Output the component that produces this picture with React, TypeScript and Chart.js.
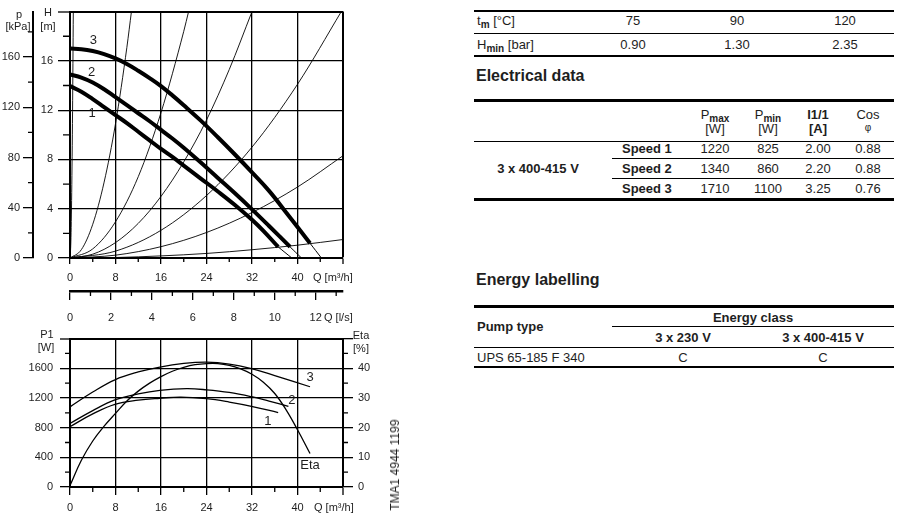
import React, { useEffect, useRef } from 'react';
import { Chart, registerables } from 'chart.js';

Chart.register(...registerables);

const FONT = '"Liberation Sans", Arial, Helvetica, sans-serif';
const INK = '#1e1e1e';

// ---------------- upper chart: H [m] / p [kPa] versus Q ----------------
const hMinor = [2, 6, 10, 14, 18];
const pMinor = [20, 60, 100, 140, 180];
const qMinor = [4, 12, 20, 28, 36, 44];
const lsMinor = [1, 3, 5, 7, 9, 11, 13];

const speed1Q = [0, 2, 4, 6, 8, 10, 12, 14, 16, 18, 20, 23, 26, 29, 32, 34, 36.6];
const speed1H = [13.95, 13.5, 12.9, 12.25, 11.6, 10.95, 10.25, 9.55, 8.85, 8.2, 7.5, 6.45, 5.4, 4.3, 3.1, 2.2, 0.9];
const speed1TailQ = [36.6, 39.0];
const speed1TailH = [0.9, 0];
const speed2Q = [0, 2, 4, 6, 8, 10, 12, 14, 16, 18, 20, 23, 26, 29, 32, 35, 38.7];
const speed2H = [14.9, 14.65, 14.25, 13.7, 13.05, 12.4, 11.75, 11.1, 10.4, 9.7, 8.95, 7.75, 6.5, 5.25, 3.95, 2.6, 0.9];
const speed2TailQ = [38.7, 40.7];
const speed2TailH = [0.9, 0];
const speed3Q = [0, 2, 4, 6, 8, 10, 12, 14, 16, 18, 20, 23, 26, 29, 32, 35, 38, 42.2];
const speed3H = [17.0, 16.95, 16.8, 16.55, 16.2, 15.75, 15.2, 14.6, 13.95, 13.2, 12.4, 11.15, 9.8, 8.4, 6.95, 5.45, 3.7, 1.2];
const speed3TailQ = [42.2, 44.2];
const speed3TailH = [1.2, 0];

const sysAQ = [0, 0.15, 0.3, 0.45, 0.58];
const sysAH = [0, 1.3, 5.3, 11.9, 20];
const sysBQ = [0, 2, 4, 6, 8, 10, 10.8];
const sysBH = [0, 0.68, 2.74, 6.16, 10.9, 17.1, 20];
const sysCQ = [0, 4, 8, 12, 16, 20, 20.85];
const sysCH = [0, 0.74, 2.94, 6.6, 11.8, 18.4, 20];
const sysDQ = [0, 4, 8, 12, 16, 20, 24, 28, 32];
const sysDH = [0, 0.31, 1.25, 2.81, 5.0, 7.8, 11.2, 15.3, 20];
const sysEQ = [0, 8, 16, 24, 32, 40, 47.7];
const sysEH = [0, 0.56, 2.25, 5.07, 9.0, 14.1, 20];
const sysFQ = [0, 8, 16, 24, 32, 40, 48];
const sysFH = [0, 0.23, 0.92, 2.07, 3.69, 5.76, 8.3];
const sysGQ = [0, 8, 16, 24, 32, 40, 48];
const sysGH = [0, 0.04, 0.17, 0.37, 0.67, 1.04, 1.5];

const topLabelText = ['1', '2', '3'];
const topLabelQ = [3.9, 3.8, 4.1];
const topLabelH = [11.7, 15.1, 17.7];

// ---------------- lower chart: P1 [W] / Eta [%] versus Q ----------------
const p1Minor = [200, 600, 1000, 1400, 1800];
const etaMinor = [5, 15, 25, 35, 45];

const p1s1Q = [0, 4, 7.9, 12, 15.8, 19.5, 24, 28, 31.9, 36.6];
const p1s1W = [813, 985, 1114, 1170, 1196, 1212, 1190, 1145, 1088, 1003];
const p1s2Q = [0, 4, 7.9, 12, 15.8, 20.5, 24, 28, 31.9, 35, 38.4];
const p1s2W = [856, 1030, 1174, 1255, 1303, 1325, 1310, 1275, 1217, 1157, 1088];
const p1s3Q = [0, 4, 7.9, 12, 15.8, 20, 24, 28, 31.9, 36, 42.2];
const p1s3W = [1080, 1280, 1445, 1550, 1617, 1665, 1682, 1657, 1596, 1502, 1351];
const etaQ = [0, 2, 4, 6, 8, 10, 12, 14, 16, 18, 20, 22, 24, 26, 28, 30, 32, 34, 36, 38, 40, 42.2];
const etaPct = [0.5, 9, 15.5, 20.5, 24.8, 29, 32.3, 35, 37.2, 39, 40.3, 41.2, 41.6, 41.6, 41, 39.8, 38, 35.3, 31.5, 26, 19.3, 11.3];

const botLabelText = ['1', '2', '3', 'Eta'];
const botLabelQ = [34.8, 39.0, 42.2, 42.2];
const botLabelW = [890, 1161, 1475, 297];

// ---------------- tables ----------------
const tmValues = ['75', '90', '120'];
const hminValues = ['0.90', '1.30', '2.35'];
const speedNames = ['Speed 1', 'Speed 2', 'Speed 3'];
const pmaxW = ['1220', '1340', '1710'];
const pminW = ['825', '860', '1100'];
const currentA = ['2.00', '2.20', '3.25'];
const cosPhi = ['0.88', '0.88', '0.76'];

const xy = (qs: number[], vs: number[]) => qs.map((q, i) => ({ x: q, y: vs[i] }));

const lineDs = (data: any[], width: number, yAxisID = 'y', mono = false) => ({
  data,
  borderColor: '#000',
  borderWidth: width,
  pointRadius: 0,
  fill: false,
  tension: 0.4,
  cubicInterpolationMode: mono ? 'monotone' : 'default',
  yAxisID,
  xAxisID: 'x',
});

const tickFont = { family: FONT, size: 11 };

function drawMinor(ctx: CanvasRenderingContext2D, scale: any, values: number[], len: number, side: string) {
  ctx.beginPath();
  for (const v of values) {
    const px = scale.getPixelForValue(v);
    if (side === 'left') {
      ctx.moveTo(scale.right - len, px);
      ctx.lineTo(scale.right, px);
    } else if (side === 'right') {
      ctx.moveTo(scale.left, px);
      ctx.lineTo(scale.left + len, px);
    } else {
      ctx.moveTo(px, scale.top);
      ctx.lineTo(px, scale.top + len);
    }
  }
  ctx.stroke();
}

function text(ctx: CanvasRenderingContext2D, s: string, x: number, y: number, size: number, align: CanvasTextAlign = 'center') {
  ctx.font = `${size}px ${FONT}`;
  ctx.textAlign = align;
  ctx.textBaseline = 'middle';
  ctx.fillText(s, x, y);
}

const topDecor = {
  id: 'topDecor',
  afterDraw(chart: any) {
    const ctx = chart.ctx as CanvasRenderingContext2D;
    const { x, xls, y, p } = chart.scales;
    ctx.save();
    ctx.strokeStyle = '#000';
    ctx.lineWidth = 1.3;
    drawMinor(ctx, y, hMinor, 7, 'left');
    drawMinor(ctx, p, pMinor, 5, 'left');
    drawMinor(ctx, x, qMinor, 4, 'bottom');
    drawMinor(ctx, xls, lsMinor, 5, 'bottom');
    ctx.fillStyle = INK;
    text(ctx, 'p', 19, 15, 11);
    text(ctx, '[kPa]', 18, 27, 11);
    text(ctx, 'H', 48, 13, 11);
    text(ctx, '[m]', 48, 27, 11);
    text(ctx, 'Q [m³/h]', 313, 278, 11, 'left');
    text(ctx, 'Q [l/s]', 324, 318, 11, 'left');
    topLabelText.forEach((s, i) => {
      text(ctx, s, x.getPixelForValue(topLabelQ[i]), y.getPixelForValue(topLabelH[i]), 13);
    });
    ctx.restore();
  },
};

const botDecor = {
  id: 'botDecor',
  afterDraw(chart: any) {
    const ctx = chart.ctx as CanvasRenderingContext2D;
    const { x, y, eta } = chart.scales;
    ctx.save();
    ctx.strokeStyle = '#000';
    ctx.lineWidth = 1.3;
    drawMinor(ctx, y, p1Minor, 5, 'left');
    drawMinor(ctx, eta, etaMinor, 5, 'right');
    drawMinor(ctx, x, qMinor, 5, 'bottom');
    ctx.fillStyle = INK;
    text(ctx, 'P1', 47, 10, 11);
    text(ctx, '[W]', 46, 23, 11);
    text(ctx, 'Eta', 361, 11, 11);
    text(ctx, '[%]', 361, 24, 11);
    text(ctx, 'Q [m³/h]', 314, 183, 11, 'left');
    botLabelText.forEach((s, i) => {
      text(ctx, s, x.getPixelForValue(botLabelQ[i]), y.getPixelForValue(botLabelW[i]), 13);
    });
    ctx.restore();
  },
};

const edgeWidth = (edges: number[]) => (c: any) => (c.tick && edges.includes(c.tick.value) ? 2 : 1.3);

function TopChart() {
  const ref = useRef<HTMLCanvasElement>(null);
  useEffect(() => {
    const chart = new Chart(ref.current!, {
      type: 'line',
      data: {
        datasets: [
          lineDs(xy(sysAQ, sysAH), 0.9, 'y', true),
          lineDs(xy(sysBQ, sysBH), 0.9, 'y', true),
          lineDs(xy(sysCQ, sysCH), 0.9, 'y', true),
          lineDs(xy(sysDQ, sysDH), 0.9, 'y', true),
          lineDs(xy(sysEQ, sysEH), 0.9, 'y', true),
          lineDs(xy(sysFQ, sysFH), 0.9, 'y', true),
          lineDs(xy(sysGQ, sysGH), 0.9, 'y', true),
          lineDs(xy(speed1TailQ, speed1TailH), 1),
          lineDs(xy(speed2TailQ, speed2TailH), 1),
          lineDs(xy(speed3TailQ, speed3TailH), 1),
          lineDs(xy(speed1Q, speed1H), 4),
          lineDs(xy(speed2Q, speed2H), 4),
          lineDs(xy(speed3Q, speed3H), 4),
        ] as any,
      },
      options: {
        animation: false,
        responsive: false,
        events: [],
        layout: { padding: { top: 10, right: 27, left: 0, bottom: 0 } },
        plugins: { legend: { display: false }, tooltip: { enabled: false } },
        scales: {
          x: {
            type: 'linear', position: 'bottom', min: 0, max: 48, weight: 0,
            ticks: { stepSize: 8, autoSkip: false, maxRotation: 0, padding: 7, font: tickFont, color: INK,
              callback: (v: any) => (v === 48 ? '' : String(v)) },
            grid: { color: '#000', lineWidth: edgeWidth([48]), tickLength: 6, tickColor: '#000', tickWidth: 1.3 },
            border: { display: true, color: '#000', width: 2 },
            afterFit: (s: any) => { s.height = 33; },
          },
          xls: {
            type: 'linear', position: 'bottom', min: 0, max: 48 / 3.6, weight: 1,
            ticks: { stepSize: 2, includeBounds: false, autoSkip: false, maxRotation: 0, padding: 11, font: tickFont, color: INK },
            grid: { drawOnChartArea: false, color: '#000', lineWidth: 1.3, tickLength: 9 },
            border: { display: true, color: '#000', width: 2.5 },
            afterFit: (s: any) => { s.height = 39; },
          },
          y: {
            type: 'linear', position: 'left', min: 0, max: 20, weight: 0,
            ticks: { stepSize: 4, autoSkip: false, padding: 5, font: tickFont, color: INK,
              callback: (v: any) => (v === 20 ? '' : String(v)) },
            grid: { color: '#000', lineWidth: edgeWidth([20]), tickLength: 12, tickColor: '#000', tickWidth: 1.3 },
            border: { display: true, color: '#000', width: 2 },
            afterFit: (s: any) => { s.width = 37; },
          },
          p: {
            type: 'linear', position: 'left', min: 0, max: 196.2, weight: 1,
            ticks: { stepSize: 40, includeBounds: false, autoSkip: false, padding: 3, font: tickFont, color: INK },
            grid: { drawOnChartArea: false, color: '#000', lineWidth: 1.3, tickLength: 10 },
            border: { display: true, color: '#000', width: 2 },
            afterFit: (s: any) => { s.width = 33; },
          },
        },
      } as any,
      plugins: [topDecor],
    });
    return () => chart.destroy();
  }, []);
  return <canvas ref={ref} width={370} height={330} style={{ position: 'absolute', left: 0, top: 0, width: 370, height: 330 }} />;
}

function BottomChart() {
  const ref = useRef<HTMLCanvasElement>(null);
  useEffect(() => {
    const chart = new Chart(ref.current!, {
      type: 'line',
      data: {
        datasets: [
          lineDs(xy(p1s1Q, p1s1W), 1.3),
          lineDs(xy(p1s2Q, p1s2W), 1.3),
          lineDs(xy(p1s3Q, p1s3W), 1.3),
          lineDs(xy(etaQ, etaPct), 1.3, 'eta'),
        ] as any,
      },
      options: {
        animation: false,
        responsive: false,
        events: [],
        layout: { padding: { top: 8, right: 0, left: 0, bottom: 0 } },
        plugins: { legend: { display: false }, tooltip: { enabled: false } },
        scales: {
          x: {
            type: 'linear', position: 'bottom', min: 0, max: 48,
            ticks: { stepSize: 8, autoSkip: false, maxRotation: 0, padding: 6, font: tickFont, color: INK,
              callback: (v: any) => (v === 48 ? '' : String(v)) },
            grid: { color: '#000', lineWidth: edgeWidth([48]), tickLength: 8, tickColor: '#000', tickWidth: 1.3 },
            border: { display: true, color: '#000', width: 2 },
            afterFit: (s: any) => { s.height = 34; },
          },
          y: {
            type: 'linear', position: 'left', min: 0, max: 2000,
            ticks: { stepSize: 400, autoSkip: false, padding: 7, font: tickFont, color: INK,
              callback: (v: any) => (v === 2000 ? '' : String(v)) },
            grid: { color: '#000', lineWidth: edgeWidth([2000]), tickLength: 10, tickColor: '#000', tickWidth: 1.3 },
            border: { display: true, color: '#000', width: 2 },
            afterFit: (s: any) => { s.width = 70; },
          },
          eta: {
            type: 'linear', position: 'right', min: 0, max: 50,
            ticks: { stepSize: 10, autoSkip: false, padding: 5, font: tickFont, color: INK,
              callback: (v: any) => (v === 50 ? '' : String(v)) },
            grid: { drawOnChartArea: false, color: '#000', lineWidth: 1.3, tickLength: 10 },
            border: { display: true, color: '#000', width: 2 },
            afterFit: (s: any) => { s.width = 77; },
          },
        },
      } as any,
      plugins: [botDecor],
    });
    return () => chart.destroy();
  }, []);
  return <canvas ref={ref} width={420} height={196} style={{ position: 'absolute', left: 0, top: 325, width: 420, height: 196 }} />;
}

const Txt = ({ x, y, c = false, b = false, size = 13, children }: any) => (
  <div style={{
    position: 'absolute', left: x, top: y, transform: `translate(${c ? '-50%' : '0'}, -50%)`,
    whiteSpace: 'nowrap', fontSize: size, fontWeight: b ? 700 : 400, lineHeight: 1, color: INK,
  }}>{children}</div>
);

const HLine = ({ x1 = 474, x2 = 894, y, w = 1 }: any) => (
  <div style={{ position: 'absolute', left: x1, width: x2 - x1, top: y - w / 2, height: w, background: '#000' }} />
);

const Sub = ({ children }: any) => (
  <span style={{ fontSize: 10, fontWeight: 700, position: 'relative', top: 3 }}>{children}</span>
);

const col1 = [633, 737, 845];
const col2 = [715, 768, 818, 868];
const rowY = [148, 168, 188];

export default function App() {
  return (
    <div style={{ position: 'absolute', left: 0, top: 0, width: 898, height: 521, background: '#fff', fontFamily: FONT, overflow: 'hidden' }}>
      <TopChart />
      <BottomChart />
      <div style={{
        position: 'absolute', left: 395, top: 465, transform: 'translate(-50%, -50%) rotate(-90deg)',
        whiteSpace: 'nowrap', fontSize: 12, color: INK, lineHeight: 1,
      }}>TMA1 4944 1199</div>

      {/* temperature / min inlet pressure table */}
      <HLine y={11} w={2.5} />
      <Txt x={477} y={20}>t<Sub>m</Sub> [°C]</Txt>
      {tmValues.map((v, i) => <Txt key={'t' + i} x={col1[i]} y={20} c>{v}</Txt>)}
      <HLine y={33} w={1} />
      <Txt x={477} y={44}>H<Sub>min</Sub> [bar]</Txt>
      {hminValues.map((v, i) => <Txt key={'h' + i} x={col1[i]} y={44} c>{v}</Txt>)}
      <HLine y={56} w={2.5} />

      <Txt x={476} y={76} b size={16}>Electrical data</Txt>

      <HLine y={100.5} w={2.5} />
      <Txt x={col2[0]} y={114} c>P<Sub>max</Sub></Txt>
      <Txt x={col2[0]} y={128} c>[W]</Txt>
      <Txt x={col2[1]} y={114} c>P<Sub>min</Sub></Txt>
      <Txt x={col2[1]} y={128} c>[W]</Txt>
      <Txt x={col2[2]} y={114} c b>I1/1</Txt>
      <Txt x={col2[2]} y={128} c b>[A]</Txt>
      <Txt x={col2[3]} y={114} c>Cos</Txt>
      <Txt x={col2[3]} y={128} c size={10}>φ</Txt>
      <HLine y={141.5} w={1} />
      <HLine x1={612} y={158} w={1} />
      <HLine x1={612} y={178} w={1} />
      <Txt x={538} y={168} c b>3 x 400-415 V</Txt>
      {speedNames.map((s, i) => (
        <React.Fragment key={'r' + i}>
          <Txt x={622} y={rowY[i]} b>{s}</Txt>
          <Txt x={col2[0]} y={rowY[i]} c>{pmaxW[i]}</Txt>
          <Txt x={col2[1]} y={rowY[i]} c>{pminW[i]}</Txt>
          <Txt x={col2[2]} y={rowY[i]} c>{currentA[i]}</Txt>
          <Txt x={col2[3]} y={rowY[i]} c>{cosPhi[i]}</Txt>
        </React.Fragment>
      ))}
      <HLine y={199.5} w={2.5} />

      <Txt x={476} y={280} b size={16}>Energy labelling</Txt>

      <HLine y={306.5} w={2.5} />
      <Txt x={753} y={316.5} c b>Energy class</Txt>
      <HLine x1={612} y={326.5} w={1} />
      <Txt x={477} y={326} b>Pump type</Txt>
      <Txt x={683} y={337} c b>3 x 230 V</Txt>
      <Txt x={823} y={337} c b>3 x 400-415 V</Txt>
      <HLine y={347.5} w={1} />
      <Txt x={477} y={357}>UPS 65-185 F 340</Txt>
      <Txt x={683} y={357} c>C</Txt>
      <Txt x={823} y={357} c>C</Txt>
      <HLine y={367} w={2.5} />
    </div>
  );
}
